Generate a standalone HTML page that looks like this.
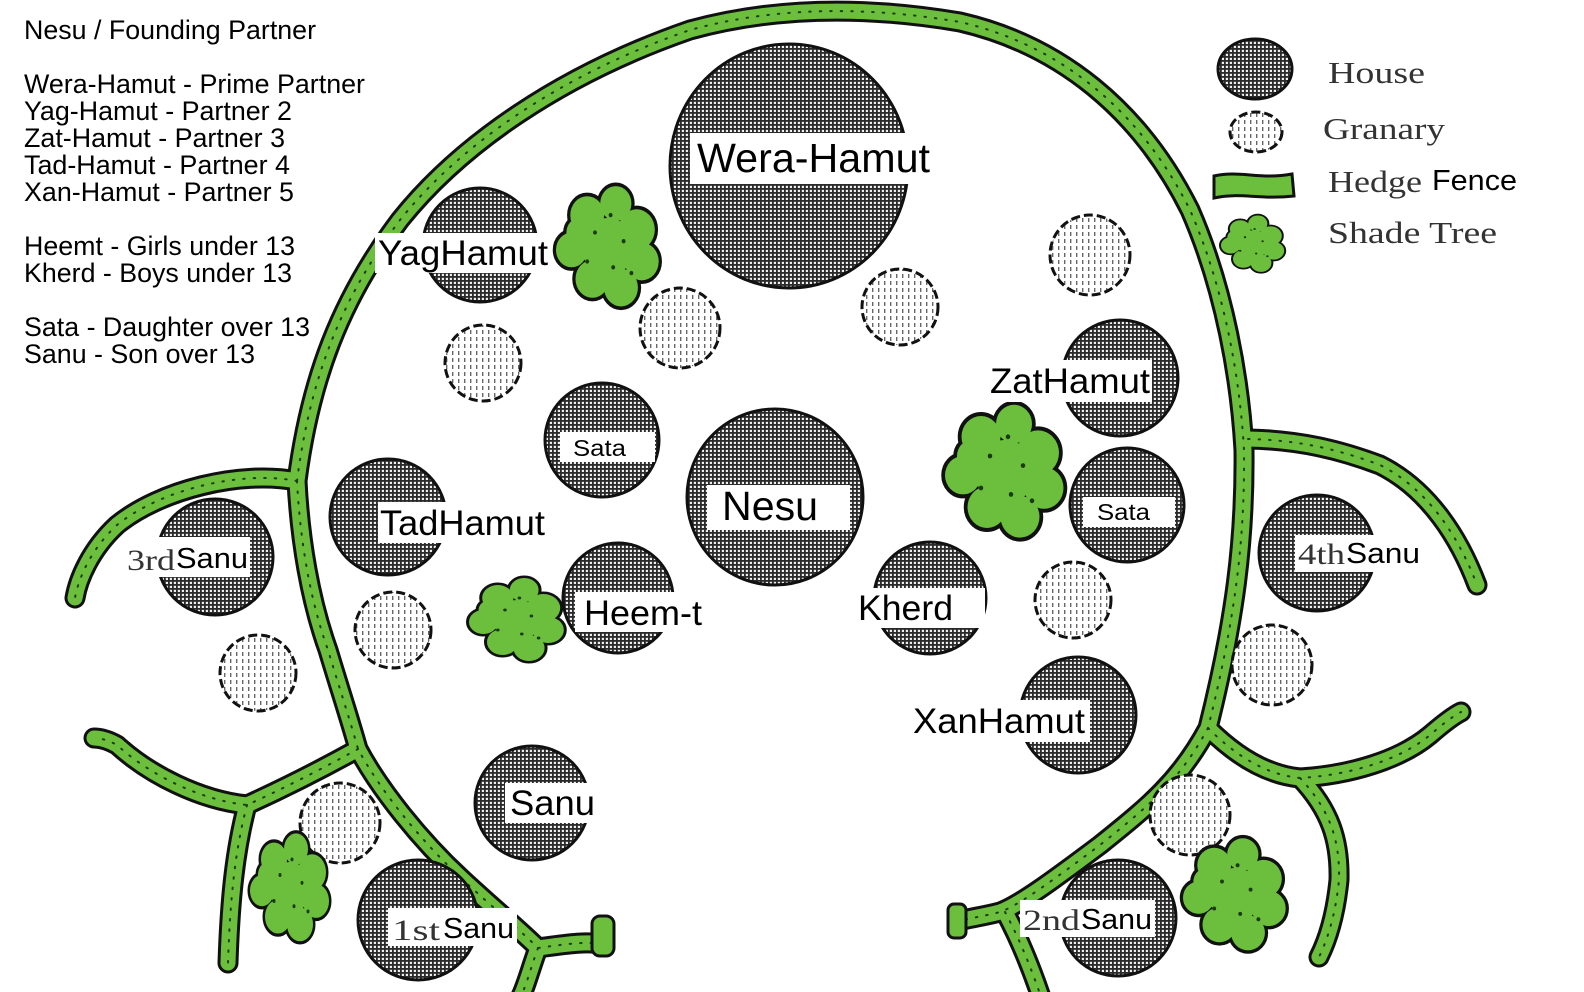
<!DOCTYPE html>
<html><head><meta charset="utf-8"><style>
html,body{margin:0;padding:0;background:#fff;}
svg{display:block;}
.lg{font-family:"Liberation Sans",sans-serif;font-size:26.5px;fill:#000;}
.lb{font-family:"Liberation Sans",sans-serif;fill:#000;}
.sf{font-family:"Liberation Serif",serif;fill:#333;}
</style></head><body>
<svg width="1584" height="992" viewBox="0 0 1584 992" xmlns="http://www.w3.org/2000/svg">
<defs>
<pattern id="hatch" width="4" height="4" patternUnits="userSpaceOnUse">
<rect width="4" height="4" fill="#eee"/>
<rect x="0" y="0" width="4" height="1.8" fill="#2a2a2a"/>
<rect x="0" y="0" width="1.8" height="4" fill="#2a2a2a"/>
</pattern>
<pattern id="gran" width="6" height="7" patternUnits="userSpaceOnUse">
<rect width="6" height="7" fill="#fff"/>
<rect x="2" y="1" width="1.4" height="4" fill="#666"/>
</pattern>
<g id="tree">
<g stroke="#111" stroke-width="5" fill="#6cbf3c">
<circle cx="-16" cy="-22" r="13"/><circle cx="6" cy="-30" r="12"/><circle cx="22" cy="-12" r="14"/>
<circle cx="26" cy="10" r="13"/><circle cx="10" cy="28" r="13"/><circle cx="-12" cy="22" r="13"/>
<circle cx="-28" cy="2" r="12"/><circle cx="0" cy="0" r="20"/><circle cx="-22" cy="-10" r="10"/>
</g>
<g fill="#6cbf3c">
<circle cx="-16" cy="-22" r="13"/><circle cx="6" cy="-30" r="12"/><circle cx="22" cy="-12" r="14"/>
<circle cx="26" cy="10" r="13"/><circle cx="10" cy="28" r="13"/><circle cx="-12" cy="22" r="13"/>
<circle cx="-28" cy="2" r="12"/><circle cx="0" cy="0" r="20"/><circle cx="-22" cy="-10" r="10"/>
</g>
<g fill="#1a3a10">
<circle cx="-10" cy="-10" r="1.5"/><circle cx="12" cy="-4" r="1.5"/><circle cx="4" cy="14" r="1.5"/><circle cx="-16" cy="10" r="1.5"/><circle cx="18" cy="18" r="1.5"/><circle cx="2" cy="-22" r="1.5"/>
</g>
</g>
<g id="hedges">
<path d="M297,481 C310,380 340,300 400,220 C460,145 560,75 690,30 C770,8 860,5 960,22 C1060,45 1140,110 1190,210 C1225,290 1240,380 1244,450 C1245,540 1235,620 1208,728 C1180,780 1150,805 1100,845 C1060,875 1020,905 1000,912 C985,916 970,918 959,921"/>
<path d="M1005,912 C1020,940 1032,970 1042,1000"/>
<path d="M297,481 C240,470 160,490 117,525 C90,550 78,580 75,598"/>
<path d="M297,481 C300,540 310,600 328,650 C340,690 350,720 358,749 C380,790 420,840 462,879 C490,905 520,930 538,948 C560,945 590,940 603,945"/>
<path d="M538,948 C530,970 525,990 519,1000"/>
<path d="M358,749 C320,770 280,790 247,805 C200,800 150,775 117,745 C108,740 100,738 94,738"/>
<path d="M247,805 C235,850 230,900 228,963"/>
<path d="M1248,439 C1300,440 1340,450 1380,465 C1430,490 1460,540 1477,585"/>
<path d="M1208,728 C1240,760 1270,775 1300,778 C1350,775 1400,760 1430,735 C1445,722 1455,715 1461,712"/>
<path d="M1300,778 C1330,810 1340,840 1339,880 C1335,920 1325,945 1319,957"/>
</g>
</defs>

<!-- hedges -->
<g fill="none" stroke-linecap="round" stroke-linejoin="round">
<use href="#hedges" stroke="#111" stroke-width="21"/>
<use href="#hedges" stroke="#6cbf3c" stroke-width="15"/>
<use href="#hedges" stroke="#1d3d12" stroke-width="2" stroke-dasharray="1.5 9"/>
</g>
<rect x="592" y="916" width="22" height="40" rx="8" fill="#6cbf3c" stroke="#111" stroke-width="3"/>
<rect x="948" y="904" width="18" height="34" rx="6" fill="#6cbf3c" stroke="#111" stroke-width="3"/>

<!-- granaries -->
<g fill="url(#gran)" stroke="#111" stroke-width="3" stroke-dasharray="9 4">
<circle cx="483" cy="363" r="38"/><circle cx="680" cy="328" r="40"/><circle cx="900" cy="307" r="38"/>
<circle cx="1090" cy="255" r="40"/><circle cx="393" cy="630" r="38"/><circle cx="258" cy="673" r="38"/>
<circle cx="340" cy="823" r="40"/><circle cx="1073" cy="600" r="38"/><circle cx="1272" cy="665" r="40"/>
<circle cx="1190" cy="815" r="40"/><ellipse cx="1256" cy="132" rx="26" ry="20"/>
</g>

<!-- houses -->
<g fill="url(#hatch)" stroke="#111" stroke-width="3">
<ellipse cx="789" cy="166" rx="119" ry="122"/>
<circle cx="480" cy="245" r="57"/><circle cx="602" cy="440" r="57"/><circle cx="775" cy="497" r="88"/>
<circle cx="388" cy="517" r="58"/><circle cx="618" cy="598" r="55"/><circle cx="930" cy="598" r="56"/>
<circle cx="1120" cy="378" r="58"/><circle cx="1127" cy="505" r="57"/><circle cx="215" cy="557" r="58"/>
<circle cx="1317" cy="553" r="58"/><circle cx="1078" cy="715" r="58"/><circle cx="532" cy="803" r="57"/>
<circle cx="418" cy="920" r="60"/><circle cx="1118" cy="918" r="58"/>
<ellipse cx="1255" cy="69" rx="37" ry="30"/>
</g>

<!-- trees -->
<use href="#tree" transform="translate(608,247) scale(1.3,1.45)"/>
<use href="#tree" transform="translate(1005,472) scale(1.5,1.6)"/>
<use href="#tree" transform="translate(517,620) scale(1.2,1.0)"/>
<use href="#tree" transform="translate(290,888) scale(1.0,1.3)"/>
<use href="#tree" transform="translate(1235,895) scale(1.3,1.35)"/>
<use href="#tree" transform="translate(1253,244) scale(0.8,0.68)"/>

<!-- legend hedge -->
<path d="M1214,176 C1240,170 1260,180 1292,174 L1294,196 C1260,200 1240,192 1214,198 Z" fill="#6cbf3c" stroke="#111" stroke-width="3"/>

<!-- label boxes -->
<g fill="#fff">
<rect x="690" y="133" width="250" height="51"/>
<rect x="375" y="233" width="173" height="40"/>
<rect x="560" y="432" width="95" height="30"/>
<rect x="707" y="485" width="143" height="45"/>
<rect x="378" y="502" width="170" height="41"/>
<rect x="575" y="592" width="130" height="40"/>
<rect x="855" y="588" width="130" height="40"/>
<rect x="985" y="360" width="167" height="42"/>
<rect x="1083" y="497" width="92" height="30"/>
<rect x="125" y="537" width="125" height="40"/>
<rect x="1295" y="535" width="125" height="37"/>
<rect x="910" y="700" width="180" height="42"/>
<rect x="505" y="783" width="92" height="40"/>
<rect x="388" y="908" width="129" height="38"/>
<rect x="1020" y="900" width="135" height="37"/>
</g>
<g class="lb" lengthAdjust="spacingAndGlyphs">
<text x="697" y="172" font-size="41" textLength="233" lengthAdjust="spacingAndGlyphs">Wera-Hamut</text>
<text x="378" y="265" font-size="35" textLength="170" lengthAdjust="spacingAndGlyphs">YagHamut</text>
<text x="573" y="456" font-size="23" textLength="53" lengthAdjust="spacingAndGlyphs">Sata</text>
<text x="722" y="520" font-size="41" textLength="96" lengthAdjust="spacingAndGlyphs">Nesu</text>
<text x="380" y="535" font-size="35" textLength="165" lengthAdjust="spacingAndGlyphs">TadHamut</text>
<text x="584" y="625" font-size="35" textLength="118" lengthAdjust="spacingAndGlyphs">Heem-t</text>
<text x="858" y="620" font-size="35" textLength="95" lengthAdjust="spacingAndGlyphs">Kherd</text>
<text x="990" y="393" font-size="35" textLength="160" lengthAdjust="spacingAndGlyphs">ZatHamut</text>
<text x="1097" y="520" font-size="23" textLength="53" lengthAdjust="spacingAndGlyphs">Sata</text>
<text x="176" y="568" font-size="29" textLength="72" lengthAdjust="spacingAndGlyphs">Sanu</text>
<text x="1346" y="563" font-size="29" textLength="74" lengthAdjust="spacingAndGlyphs">Sanu</text>
<text x="913" y="733" font-size="35" textLength="172" lengthAdjust="spacingAndGlyphs">XanHamut</text>
<text x="510" y="815" font-size="35" textLength="85" lengthAdjust="spacingAndGlyphs">Sanu</text>
<text x="443" y="938" font-size="29" textLength="71" lengthAdjust="spacingAndGlyphs">Sanu</text>
<text x="1081" y="929" font-size="29" textLength="71" lengthAdjust="spacingAndGlyphs">Sanu</text>
<text x="1432" y="190" font-size="29" textLength="85" lengthAdjust="spacingAndGlyphs">Fence</text>
</g>
<g class="sf">
<text x="127" y="570" font-size="30" textLength="48" lengthAdjust="spacingAndGlyphs">3rd</text>
<text x="1298" y="564" font-size="30" textLength="47" lengthAdjust="spacingAndGlyphs">4th</text>
<text x="392" y="940" font-size="30" textLength="48" lengthAdjust="spacingAndGlyphs">1st</text>
<text x="1023" y="930" font-size="30" textLength="57" lengthAdjust="spacingAndGlyphs">2nd</text>
<text x="1328" y="83" font-size="31" textLength="97" lengthAdjust="spacingAndGlyphs">House</text>
<text x="1323" y="139" font-size="31" textLength="122" lengthAdjust="spacingAndGlyphs">Granary</text>
<text x="1328" y="192" font-size="31" textLength="94" lengthAdjust="spacingAndGlyphs">Hedge</text>
<text x="1328" y="243" font-size="31" textLength="169" lengthAdjust="spacingAndGlyphs">Shade Tree</text>
</g>

<!-- key text -->
<g class="lg">
<text x="24" y="39" textLength="292" lengthAdjust="spacingAndGlyphs">Nesu / Founding Partner</text>
<text x="24" y="93" textLength="341" lengthAdjust="spacingAndGlyphs">Wera-Hamut - Prime Partner</text>
<text x="24" y="120" textLength="268" lengthAdjust="spacingAndGlyphs">Yag-Hamut - Partner 2</text>
<text x="24" y="147" textLength="261" lengthAdjust="spacingAndGlyphs">Zat-Hamut - Partner 3</text>
<text x="24" y="174" textLength="266" lengthAdjust="spacingAndGlyphs">Tad-Hamut - Partner 4</text>
<text x="24" y="201" textLength="270" lengthAdjust="spacingAndGlyphs">Xan-Hamut - Partner 5</text>
<text x="24" y="255" textLength="271" lengthAdjust="spacingAndGlyphs">Heemt - Girls under 13</text>
<text x="24" y="282" textLength="268" lengthAdjust="spacingAndGlyphs">Kherd - Boys under 13</text>
<text x="24" y="336" textLength="286" lengthAdjust="spacingAndGlyphs">Sata - Daughter over 13</text>
<text x="24" y="363" textLength="231" lengthAdjust="spacingAndGlyphs">Sanu - Son over 13</text>
</g>
</svg>
</body></html>
